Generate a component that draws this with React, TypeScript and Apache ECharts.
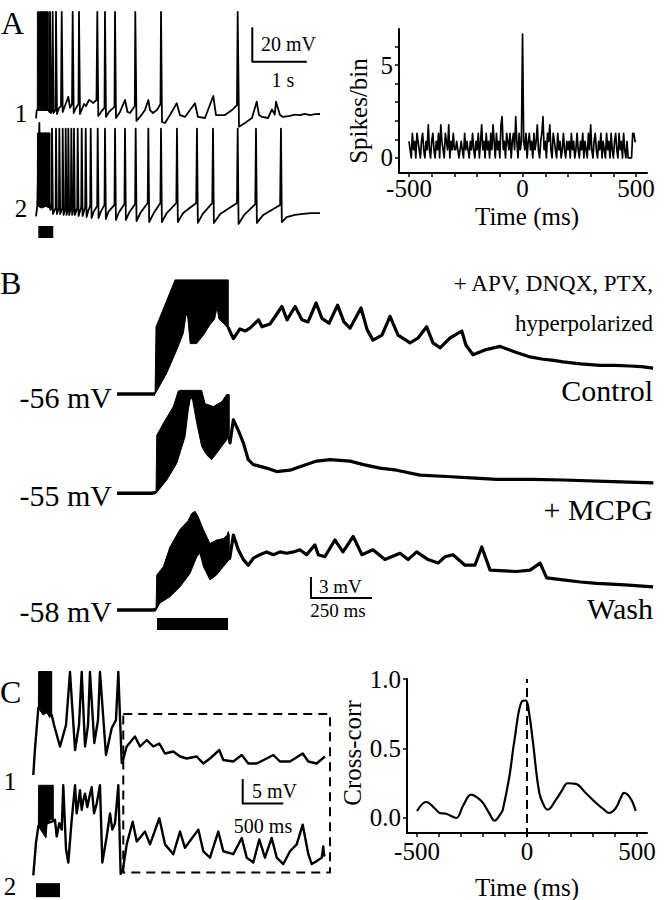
import React, { useEffect, useRef } from "react";
import * as echarts from "echarts";

const SERIF = '"Liberation Serif", "Times New Roman", "DejaVu Serif", serif';

// ---------- Panel A: paired recordings (time s, membrane potential mV) ----------
const A1_TRACE: number[][] = [
  [0, -60.2], [0.013, -55.4], [0.024, -55.4], [0.226, -55.4], [0.248, -56.5], [0.257, 1.4], [0.275, -57.1],
  [0.297, -55.4], [0.306, 1.4], [0.321, -57.1], [0.358, -55.4], [0.367, 1.4], [0.385, -57.7], [0.422, -54.2],
  [0.459, -53.1], [0.472, 1.4], [0.49, -56.5], [0.55, -51.3], [0.593, -47.7], [0.624, -54.2], [0.661, -51.9],
  [0.673, 1.4], [0.692, -57.1], [0.734, -54.2], [0.78, -51.9], [0.789, 1.4], [0.807, -57.7], [0.881, -51.9],
  [0.917, -53.1], [0.972, -49.6], [1.009, -50.2], [1.046, -51.3], [1.11, -49.6], [1.125, 1.4], [1.143, -58.8],
  [1.193, -56.5], [1.257, -54.2], [1.266, 1.4], [1.284, -59.4], [1.339, -56.5], [1.44, -53.6], [1.45, 1.4],
  [1.468, -60], [1.541, -56.5], [1.633, -49.6], [1.679, -56.5], [1.725, -57.1], [1.813, -53.1], [1.822, 1.4],
  [1.844, -61.7], [1.908, -59.4], [2.0, -55.4], [2.061, -49.6], [2.092, -55.4], [2.147, -57.1], [2.22, -55.4],
  [2.284, -51.9], [2.294, 1.4], [2.312, -62.3], [2.367, -62.9], [2.459, -58.3], [2.582, -51.5], [2.642, -58.3],
  [2.734, -59.4], [2.917, -51.5], [2.972, -59.4], [3.101, -60], [3.253, -47.3], [3.303, -58.3], [3.468, -58.3],
  [3.596, -55.4], [3.688, -52.5], [3.701, 1.4], [3.725, -65.0], [3.835, -62.9], [3.963, -60], [4.05, -50.6],
  [4.092, -58.3], [4.147, -59.4], [4.257, -60], [4.33, -55], [4.38, -58], [4.404, -50.6], [4.477, -58.3],
  [4.532, -59.4], [4.661, -58.8], [4.75, -58.0], [4.844, -58.3], [4.93, -57.6], [5.028, -58.3], [5.12, -57.8], [5.211, -57.7],
];
const A1_BURST_UPPER: number[][] = [[0.024, -55.4], [0.026, 1.4], [0.226, 1.4]];
const A1_BURST_LOWER: number[][] = [[0.024, -55.4], [0.1, -54.8], [0.15, -55.6], [0.226, -55.4]];

const A2_TRACE: number[][] = [
  [0, -60.2], [0.024, -54.2], [0.058, -12], [0.061, -6.2], [0.064, -12], [0.257, -55.4], [0.266, -56.5],
  [0.285, -55.4], [0.294, -9.5], [0.31, -58.8],
  [0.36, -55.4], [0.367, -9.5], [0.383, -58.8],
  [0.421, -55.4], [0.428, -9.5], [0.444, -58.8],
  [0.483, -55.4], [0.49, -9.5], [0.506, -59.4],
  [0.538, -55.4], [0.545, -9.5], [0.561, -59.4],
  [0.586, -55.4], [0.593, -9.5], [0.609, -59.4],
  [0.64, -55.4], [0.648, -9.5], [0.664, -59.4],
  [0.69, -55.4], [0.697, -9.5], [0.713, -59.4],
  [0.757, -55.4], [0.765, -9.5], [0.781, -60],
  [0.83, -54.8], [0.839, -9.5], [0.855, -60],
  [0.903, -54.8], [0.912, -9.5], [0.928, -60.6],
  [0.96, -57], [0.995, -54.2], [1.004, -9.5], [1.02, -61.2],
  [1.06, -57.5], [1.123, -54.2], [1.132, -9.5], [1.148, -61.2],
  [1.19, -57.5], [1.257, -53.6], [1.266, -9.5], [1.282, -61.7],
  [1.33, -57.5], [1.44, -53.6], [1.45, -9.5], [1.466, -62.3],
  [1.52, -58], [1.623, -53.1], [1.633, -9.5], [1.649, -62.3],
  [1.71, -58], [1.819, -53.1], [1.829, -9.5], [1.845, -62.9],
  [1.92, -58], [2.05, -52.5], [2.061, -9.5], [2.077, -63.5],
  [2.16, -58.3], [2.283, -52.5], [2.294, -9.5], [2.31, -63.5],
  [2.4, -58.3], [2.575, -52.5], [2.587, -9.5], [2.603, -63.5],
  [2.7, -58.3], [2.94, -52.5], [2.954, -9.5], [2.97, -64],
  [3.06, -58.8], [3.235, -52.5], [3.248, -9.5], [3.264, -64],
  [3.38, -58.8], [3.688, -52.5], [3.701, -9.5], [3.717, -64.6],
  [3.82, -59.4], [4.024, -53.1], [4.037, -9.5], [4.053, -64],
  [4.17, -59.4], [4.48, -53.6], [4.495, -9.5], [4.511, -63.5],
  [4.6, -60.6], [4.75, -59.4], [4.9, -58.8], [5.05, -58.3], [5.211, -58.3],
];
const A2_BURST_UPPER: number[][] = [[0.024, -54.2], [0.027, -12], [0.257, -12]];
const A2_BURST_LOWER: number[][] = [[0.024, -54.2], [0.1, -55.4], [0.18, -54.5], [0.257, -55.4]];

const A_STIM_S = [0.042, 0.317];
const A_SCALE = { t0: 3.969, t1: 4.969, v0: -27.5, v1: -7.5 };

// Cross-correlogram of spikes (ms, spikes/bin), 5 ms bins from -500 ms
const HIST_START_MS = -500;
const HIST_BIN_MS = 5;
const HIST_VALUES = [
  0.89, 0.44, 0.0, 1.33, 0.44, 0.89, 0.0, 1.33, 0.89, 0.44,
  0.0, 0.89, 1.33, 0.44, 0.0, 0.89, 0.44, 1.78, 0.44, 0.0,
  0.89, 1.33, 0.44, 0.0, 0.89, 0.44, 1.33, 0.0, 1.78, 0.89,
  0.44, 0.0, 1.33, 0.89, 0.44, 1.78, 0.0, 0.89, 0.44, 1.33,
  0.44, 0.44, 0.89, 0.44, 0.0, 0.44, 0.89, 0.44, 0.0, 1.33,
  0.44, 0.89, 0.44, 0.0, 0.89, 0.44, 1.33, 0.44, 0.0, 0.89,
  0.44, 1.33, 0.0, 0.89, 1.78, 0.44, 0.89, 0.0, 1.33, 0.44,
  0.89, 0.0, 1.33, 0.44, 1.78, 0.89, 0.0, 1.33, 0.44, 0.89,
  0.0, 1.78, 2.22, 0.44, 0.89, 0.0, 1.33, 0.89, 0.44, 1.33,
  0.0, 0.89, 1.33, 0.44, 2.22, 0.89, 0.0, 1.33, 0.44, 0.89,
  6.67,
  0.89, 0.44, 1.33, 0.0, 0.89, 1.33, 0.44, 0.89, 0.0, 1.33,
  0.44, 0.89, 1.78, 0.44, 0.0, 0.89, 1.33, 2.22, 0.44, 0.89,
  0.0, 1.33, 0.89, 1.78, 0.44, 0.0, 1.33, 0.89, 0.44, 0.0,
  1.33, 0.44, 0.89, 0.0, 0.44, 1.33, 0.44, 0.0, 0.89, 0.44,
  0.89, 0.0, 1.33, 0.44, 0.89, 0.0, 0.44, 1.33, 0.44, 0.0,
  0.89, 0.44, 1.33, 0.0, 0.89, 0.44, 0.0, 1.33, 0.44, 1.78,
  0.44, 0.0, 0.89, 1.33, 0.44, 0.0, 0.89, 0.44, 1.33, 0.0,
  0.89, 0.44, 0.0, 1.33, 0.44, 0.89, 0.0, 1.33, 0.44, 0.0,
  0.89, 1.33, 0.44, 0.0, 1.33, 0.44, 0.89, 0.0, 1.33, 0.44,
  0.0, 0.89, 0.0, 0.0, 0.0, 0.0, 1.33, 1.33, 0.89, 0.89,
];

// ---------- Panel B: (time ms, mV) ----------
const CTRL_PRE: number[][] = [[0, -56], [156, -56]];
const CTRL_TRACE: number[][] = [
  [456, -46.7], [457, -46.6], [477, -48.1], [504, -46.7], [525, -47.0], [545, -46.6],
  [580, -45.4], [594, -46.4], [627, -46.0], [676, -43.5], [697, -45.4], [730, -43.5], [758, -45.4], [783, -45.7],
  [816, -43.0], [840, -45.2], [869, -45.9], [904, -43.3], [930, -45.7], [955, -46.6], [1000, -43.7], [1025, -46.8],
  [1049, -48.3], [1086, -47.6], [1119, -44.9], [1152, -47.6], [1201, -48.7], [1234, -48.0], [1269, -46.4],
  [1295, -48.7], [1324, -49.4], [1365, -48.0], [1385, -47.6], [1413, -47.0], [1430, -49.0], [1459, -50.4],
  [1508, -49.7], [1570, -49.2], [1631, -50.0], [1693, -50.7], [1740, -51.0], [1790, -51.2], [1828, -51.4],
  [1900, -51.7], [1980, -51.9], [2040, -51.9], [2102, -52.0], [2150, -52.1], [2197, -52.3],
];
const CTRL_BURST_UPPER: number[][] = [[156, -56], [160, -46.4], [238, -39.7], [456, -39.7]];
const CTRL_BURST_LOWER: number[][] = [
  [156, -56], [204, -53.0], [245, -49.7], [272, -47.3], [283, -44.6], [290, -45.0], [300, -48.8], [326, -48.8],
  [354, -47.6], [381, -46.1], [400, -45.3], [410, -43.6], [418, -45.3], [440, -46.0], [456, -46.7],
];

const MCPG_PRE: number[][] = [[0, -55], [142, -55], [156, -54.9], [160, -55]];
const MCPG_TRACE: number[][] = [
  [460, -46.9], [463, -47.8], [477, -44.5], [497, -46.0],
  [518, -47.8], [538, -50.2], [559, -50.9], [613, -51.4], [654, -51.9], [709, -51.7], [750, -51.2], [818, -50.4],
  [873, -50.2], [955, -50.4], [1010, -50.9], [1078, -51.4], [1146, -51.7], [1242, -52.4], [1351, -52.6],
  [1450, -52.8], [1556, -53.0], [1700, -53.0], [1829, -53.1], [2000, -53.3], [2198, -53.5],
];
const MCPG_BURST_UPPER: number[][] = [
  [160, -55], [163, -46.7], [190, -45.0], [231, -42.6], [251, -40.4], [258, -40.3], [347, -40.3], [361, -42.2],
  [395, -42.6], [430, -41.9], [449, -40.9], [460, -40.9],
];
const MCPG_BURST_LOWER: number[][] = [
  [160, -55], [204, -53.1], [245, -50.7], [279, -46.9], [292, -43.1], [302, -41.2], [310, -41.7], [327, -45.0],
  [347, -48.3], [367, -49.5], [388, -50.2], [408, -49.3], [429, -48.3], [449, -47.4], [460, -46.9],
];

const WASH_PRE: number[][] = [[0, -58], [149, -58], [160, -57.9]];
const WASH_TRACE: number[][] = [
  [460, -50.8], [463, -50.4], [477, -47.3], [497, -49.4], [518, -50.8],
  [538, -51.6], [559, -50.6], [586, -50.1], [613, -49.7], [641, -50.1], [668, -49.7], [695, -49.9], [723, -49.7],
  [750, -49.4], [777, -50.1], [811, -48.7], [825, -50.1], [852, -50.4], [893, -48.0], [926, -49.7], [968, -47.5],
  [1004, -50.1], [1049, -49.4], [1098, -50.8], [1160, -49.9], [1193, -50.8], [1228, -49.7], [1275, -50.8],
  [1316, -51.3], [1344, -50.4], [1377, -50.1], [1426, -51.6], [1467, -51.6], [1495, -49.0], [1529, -52.3],
  [1638, -52.5], [1693, -52.3], [1734, -51.3], [1761, -53.4], [1828, -53.7], [1900, -54.0], [1966, -54.2],
  [2082, -54.4], [2197, -54.7],
];
const WASH_BURST_UPPER: number[][] = [
  [160, -58], [163, -53.0], [190, -51.8], [217, -49.0], [258, -46.5], [292, -45.2], [306, -44.2], [320, -43.9],
  [333, -44.7], [354, -46.5], [381, -48.5], [408, -48.0], [436, -47.8], [452, -47.3], [456, -46.8], [460, -47.3],
];
const WASH_BURST_LOWER: number[][] = [
  [160, -58], [176, -57.0], [217, -56.1], [258, -54.7], [299, -52.8], [327, -50.4], [340, -49.9], [354, -51.8],
  [381, -53.7], [408, -53.0], [436, -51.8], [460, -50.8],
];
const B_STIM_MS = [164, 455];
const B_STIM_LEVEL = -60;
const B_SCALE = { t0: 795, t1: 1045, v0: -56.3, v1: -53.3 };

// ---------- Panel C: (time s, mV) ----------
const C1_TRACE: number[][] = [
  [0, -60], [0.021, -54.7], [0.062, -46.6], [0.227, -48], [0.255, -50], [0.329, -54.3], [0.403, -50],
  [0.452, -39.4], [0.514, -55], [0.563, -50], [0.596, -39.4], [0.637, -54.3], [0.674, -50], [0.698, -39.4],
  [0.751, -53.6], [0.797, -49], [0.821, -39.4], [0.895, -56], [0.966, -50.6], [1.018, -49], [1.047, -39.4],
  [1.089, -57.6], [1.101, -57.3], [1.15, -54.3], [1.252, -52.3], [1.314, -54.3], [1.397, -53], [1.478, -54.3],
  [1.552, -53.7], [1.622, -55.7], [1.724, -55.3], [1.807, -56.3], [1.889, -56.7], [2.012, -56.3], [2.094, -57.7],
  [2.176, -56.7], [2.291, -55], [2.34, -57], [2.463, -57.3], [2.567, -56], [2.648, -57.7], [2.751, -57.7],
  [2.874, -56.7], [2.956, -56], [3.038, -57.3], [3.161, -57.3], [3.318, -55.7], [3.387, -57.3], [3.49, -57.7],
  [3.592, -56.3],
];
const C1_BURST_UPPER: number[][] = [[0.062, -46.6], [0.066, -39.3], [0.227, -39.3]];
const C1_BURST_LOWER: number[][] = [[0.062, -46.6], [0.12, -48], [0.17, -47.5], [0.2, -48.5], [0.227, -48]];

const C2_TRACE: number[][] = [
  [0, -60], [0.033, -53.4], [0.062, -50], [0.246, -49], [0.267, -48.7], [0.288, -52.1], [0.32, -49.4],
  [0.35, -50.7], [0.369, -41.7], [0.403, -54.7], [0.431, -57.4], [0.473, -48.7], [0.514, -41.7], [0.534, -47.4],
  [0.554, -45.4], [0.575, -42.7], [0.596, -46.7], [0.616, -44.7], [0.637, -43.4], [0.665, -46.1], [0.69, -44.1],
  [0.719, -42.1], [0.748, -47.4], [0.781, -45.4], [0.821, -41.7], [0.85, -57.4], [0.904, -52.1], [0.945, -47.4],
  [0.973, -50.7], [1.006, -49.4], [1.047, -41.7], [1.076, -59.7], [1.101, -59.1], [1.15, -53.7], [1.224, -49.1],
  [1.274, -53.1], [1.376, -51.1], [1.437, -53.7], [1.552, -48.4], [1.622, -53.7], [1.724, -55.7], [1.807, -51.1],
  [1.868, -54.4], [2.032, -50.7], [2.094, -55.1], [2.176, -56.4], [2.278, -51.1], [2.34, -55.1], [2.463, -55.7],
  [2.567, -52.4], [2.628, -56.4], [2.709, -57.4], [2.783, -52.7], [2.853, -56.4], [2.936, -52.4], [2.998, -56.4],
  [3.079, -57.7], [3.161, -55.1], [3.244, -53.7], [3.318, -49.7], [3.387, -55.7], [3.429, -57.7], [3.49, -57.1],
  [3.552, -56.4], [3.571, -54.1], [3.58, -56], [3.592, -55.7],
];
const C2_BURST_UPPER: number[][] = [[0.062, -50], [0.066, -41.7], [0.246, -41.7]];
const C2_BURST_LOWER: number[][] = [[0.062, -50], [0.12, -51.5], [0.156, -52.4], [0.17, -49.5], [0.22, -48.5], [0.246, -49]];
const C_STIM_S = [0.033, 0.329];
const C_SCALE = { t0: 2.579, t1: 3.079, v0: -45.4, v1: -40.4 };
const C_BOX = { t0: 1.108, t1: 3.654, v0: -59.4, v1: -27.2 };

// Cross-correlation of membrane potentials (ms, r)
const CC_LAG_MS = [-500, -458, -420, -397, -367, -322, -290, -254, -220, -201, -170, -148, -120, -110, -80, -57, -23, -5, 10, 26, 56, 80, 94, 131, 160, 184, 222, 267, 313, 350, 373, 403, 425, 441, 471, 494];
const CC_VALUES = [0.05, 0.115, 0.07, 0.036, 0.03, 0.0, 0.09, 0.168, 0.14, 0.11, 0.03, -0.02, 0.03, 0.06, 0.3, 0.56, 0.84, 0.845, 0.75, 0.56, 0.18, 0.08, 0.06, 0.13, 0.2, 0.25, 0.245, 0.18, 0.11, 0.06, 0.036, 0.07, 0.14, 0.18, 0.14, 0.05];

const MS_TICKS = [-500, -400, -300, -200, -100, 0, 100, 200, 300, 400, 500];
const MS_LABELS = [-500, 0, 500];

type LineOpts = { dash?: number[]; cap?: string; smooth?: number; clip?: boolean };

export default function App() {
  const ref = useRef<HTMLDivElement>(null);
  useEffect(() => {
    document.body.style.margin = "0";
    const chart = echarts.init(ref.current!, null, { renderer: "svg" });

    const hidden = (gridIndex: number, min: number, max: number) => ({ type: "value", gridIndex, min, max, show: false });
    const trace = (idx: number, data: number[][], width: number, o: LineOpts = {}) => ({
      type: "line", xAxisIndex: idx, yAxisIndex: idx, data, symbol: "none", showSymbol: false, silent: true,
      smooth: o.smooth || false, clip: o.clip === undefined ? true : o.clip,
      lineStyle: { color: "#000", width, join: "round", cap: o.cap || "butt", type: o.dash || "solid" },
      emphasis: { disabled: true },
    });
    const band = (idx: number, upper: number[][], lower: number[][]) => ({
      type: "custom", xAxisIndex: idx, yAxisIndex: idx, silent: true, data: [upper[0]],
      renderItem: (_p: any, api: any) => {
        const pts = upper.map((p) => api.coord(p)).concat(lower.slice().reverse().map((p) => api.coord(p)));
        return { type: "polygon", shape: { points: pts }, style: { fill: "#000", stroke: "#000", lineWidth: 1 } };
      },
    });
    const axisCommon = {
      axisLine: { show: true, onZero: false, lineStyle: { color: "#000", width: 2 } },
      splitLine: { show: false },
    };
    const labelStyle = { color: "#000", fontSize: 25, fontFamily: SERIF };
    const tickStyle = { show: true, length: 4, lineStyle: { color: "#000", width: 1.5 } };

    const histData = HIST_VALUES.map((v, i) => [HIST_START_MS + i * HIST_BIN_MS, v]);
    const ccData = CC_LAG_MS.map((t, i) => [t, CC_VALUES[i]]);

    const grid = [
      { left: 36, top: 7.28, width: 286.1, height: 121.1 }, // 0 A1
      { left: 36, top: 120.8, width: 286.1, height: 119.4 }, // 1 A2
      { left: 399, top: 29, width: 248, height: 144 }, // 2 hist
      { left: 117, top: 268, width: 536.8, height: 133 }, // 3 control
      { left: 117, top: 367.3, width: 536.8, height: 133 }, // 4 mcpg
      { left: 117, top: 491, width: 536.8, height: 140 }, // 5 wash
      { left: 33.3, top: 665, width: 300.44, height: 115 }, // 6 C1
      { left: 33.3, top: 708, width: 300.44, height: 195 }, // 7 C2
      { left: 407, top: 679, width: 240, height: 154 }, // 8 cross-corr
    ];

    const xAxis: any[] = [
      hidden(0, 0, 5.25), hidden(1, 0, 5.25),
      {
        type: "value", gridIndex: 2, min: -544, max: 548, ...axisCommon,
        axisTick: { ...tickStyle, customValues: MS_TICKS },
        axisLabel: { ...labelStyle, margin: 3, customValues: MS_LABELS },
      },
      hidden(3, 0, 2200), hidden(4, 0, 2200), hidden(5, 0, 2200),
      hidden(6, 0, 3.7), hidden(7, 0, 3.7),
      {
        type: "value", gridIndex: 8, min: -545.5, max: 545.5, ...axisCommon,
        axisTick: { ...tickStyle, customValues: MS_TICKS },
        axisLabel: { ...labelStyle, margin: 6, customValues: MS_LABELS },
      },
    ];
    const yAxis: any[] = [
      hidden(0, -66, 4), hidden(1, -74, -5),
      {
        type: "value", gridIndex: 2, min: -0.81, max: 6.94, ...axisCommon,
        axisTick: { ...tickStyle, customValues: [0, 1, 2, 3, 4, 5, 6] },
        axisLabel: { ...labelStyle, margin: 6, customValues: [0, 5] },
      },
      hidden(3, -57, -38), hidden(4, -56, -37), hidden(5, -61, -41),
      hidden(6, -61, -38), hidden(7, -65, -26),
      {
        type: "value", gridIndex: 8, min: -0.108, max: 1.0, ...axisCommon,
        axisTick: { ...tickStyle, customValues: [0, 0.5, 1.0] },
        axisLabel: { ...labelStyle, margin: 6, customValues: [0, 0.5, 1.0], formatter: (v: number) => v.toFixed(1) },
      },
    ];

    const series: any[] = [
      trace(0, A1_TRACE, 1.8), band(0, A1_BURST_UPPER, A1_BURST_LOWER),
      trace(1, A2_TRACE, 1.8), band(1, A2_BURST_UPPER, A2_BURST_LOWER),
      trace(1, [[A_STIM_S[0], -69.25], [A_STIM_S[1], -69.25]], 12),
      trace(0, [[A_SCALE.t0, A_SCALE.v1], [A_SCALE.t0, A_SCALE.v0], [A_SCALE.t1, A_SCALE.v0]], 2),
      trace(2, histData, 1.7),
      trace(3, CTRL_PRE, 3.5), trace(3, CTRL_TRACE, 3.2), band(3, CTRL_BURST_UPPER, CTRL_BURST_LOWER),
      trace(4, MCPG_PRE, 3.5), trace(4, MCPG_TRACE, 3.2), band(4, MCPG_BURST_UPPER, MCPG_BURST_LOWER),
      trace(5, WASH_PRE, 3.5), trace(5, WASH_TRACE, 3.2), band(5, WASH_BURST_UPPER, WASH_BURST_LOWER),
      trace(5, [[B_STIM_MS[0], B_STIM_LEVEL], [B_STIM_MS[1], B_STIM_LEVEL]], 12),
      trace(5, [[B_SCALE.t0, B_SCALE.v1], [B_SCALE.t0, B_SCALE.v0], [B_SCALE.t1, B_SCALE.v0]], 2),
      trace(6, C1_TRACE, 2.4), band(6, C1_BURST_UPPER, C1_BURST_LOWER),
      trace(7, C2_TRACE, 2.4), band(7, C2_BURST_UPPER, C2_BURST_LOWER),
      trace(7, [[C_STIM_S[0], -63], [C_STIM_S[1], -63]], 14),
      trace(7, [[C_SCALE.t0, C_SCALE.v1], [C_SCALE.t0, C_SCALE.v0], [C_SCALE.t1, C_SCALE.v0]], 2),
      trace(7, [[C_BOX.t0, C_BOX.v1], [C_BOX.t1, C_BOX.v1], [C_BOX.t1, C_BOX.v0], [C_BOX.t0, C_BOX.v0], [C_BOX.t0, C_BOX.v1]], 2,
        { dash: [9, 6] }),
      trace(8, ccData, 2.2, { smooth: 0.4 }),
      trace(8, [[0, -0.137], [0, 1.0]], 2, { dash: [9, 5], clip: false }),
    ];

    const txt = (text: string, x: number, y: number, size: number, align = "left", rotation = 0) => ({
      type: "text", x, y, rotation, silent: true,
      style: { text, x: 0, y: 0, fill: "#000", fontSize: size, fontFamily: SERIF, textAlign: align, textVerticalAlign: "middle" },
    });

    const graphic = [
      txt("A", 1, 23, 32), txt("1", 21, 113, 25, "center"), txt("2", 21, 208, 25, "center"),
      txt("20 mV", 261, 44, 20), txt("1 s", 283, 80, 20, "center"),
      txt("Spikes/bin", 358, 111, 25, "center", Math.PI / 2), txt("Time (ms)", 527, 216, 25, "center"),
      txt("B", 0, 283, 32),
      txt("-56 mV", 112, 397, 30, "right"), txt("-55 mV", 112, 495, 30, "right"), txt("-58 mV", 112, 611, 30, "right"),
      txt("+ APV, DNQX, PTX,", 653, 283, 23, "right"), txt("hyperpolarized", 653, 323, 23, "right"),
      txt("Control", 653, 390, 30, "right"), txt("+ MCPG", 653, 509, 30, "right"), txt("Wash", 653, 608, 30, "right"),
      txt("3 mV", 319, 586, 19), txt("250 ms", 338, 610, 19, "center"),
      txt("C", 0, 692, 32), txt("1", 10, 781, 26, "center"), txt("2", 10, 886, 25, "center"),
      txt("5 mV", 252, 791, 20), txt("500 ms", 263, 826, 20, "center"),
      txt("Cross-corr", 352, 753, 25, "center", Math.PI / 2), txt("Time (ms)", 527, 887, 25, "center"),
    ];

    chart.setOption({ animation: false, backgroundColor: "#fff", grid, xAxis, yAxis, series, graphic });
    return () => chart.dispose();
  }, []);
  return <div ref={ref} style={{ width: 670, height: 900 }} />;
}
